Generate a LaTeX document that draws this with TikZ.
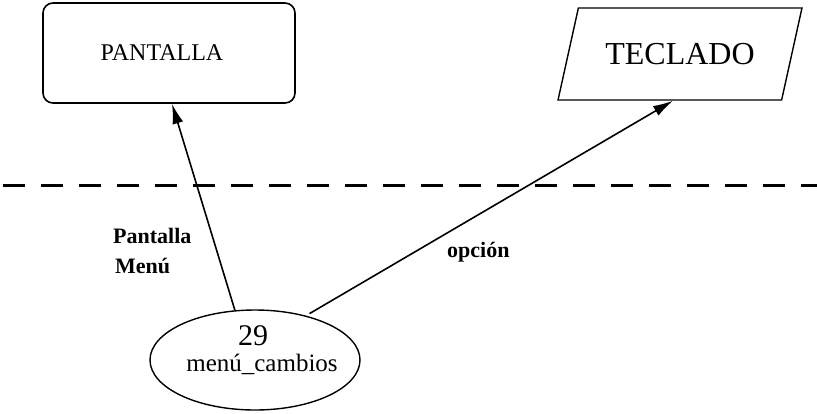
\documentclass[tikz,border=0pt]{standalone}
\usepackage{fontspec}
\setmainfont{Liberation Serif}
\usepackage{tikz}
\usetikzlibrary{shapes}
\usetikzlibrary{arrows.meta}

\begin{document}
\begin{tikzpicture}[x=1pt,y=-1pt,
		caja/.style={draw, line width=1.6pt, rounded corners=10pt, minimum width=252pt, minimum height=100pt, font=\fontsize{24}{26}\selectfont},
		entrada/.style={draw, line width=1.4pt, trapezium, trapezium left angle=61, trapezium right angle=119, trapezium stretches=true, minimum width=244pt, minimum height=92pt, font=\fontsize{32}{34}\selectfont},
		proceso/.style={draw, line width=1.4pt, ellipse, minimum width=210pt, minimum height=100pt},
		flecha/.style={line width=1.6pt, -{Latex[length=20pt,width=11pt]}},
		etiqueta/.style={anchor=base west, inner sep=0pt, font=\bfseries\fontsize{22}{26}\selectfont}]
		\useasboundingbox (0,0) rectangle (817,413);
		% bloques
		\node[caja] (pantalla) at (169,53) {\hspace*{-14pt}PANTALLA};
		\node[entrada] (teclado) at (680,54) {TECLADO};
		\node[proceso] (proc) at (255,360) {};
		\node[font=\fontsize{30}{30}\selectfont] (num) at (253,336) {29};
		\node[font=\fontsize{25}{27}\selectfont] (nombre) at (262,364) {menú\_cambios};
		% frontera
		\draw[line width=3pt, dash pattern=on 22pt off 16pt] (3,185) -- (817,185);
		% flujos
		\draw[flecha] (proc.112) -- ([xshift=3pt]pantalla.south);
		\draw[flecha, shorten <=4pt] (proc.41) -- ([xshift=-7pt]teclado.south);
		\node[etiqueta] (lbl1) at (113,243) {Pantalla};
		\node[etiqueta] (lbl2) at (115,273) {Menú};
		\node[etiqueta] (lbl3) at (447,257) {opción};
	\end{tikzpicture}
\end{document}
